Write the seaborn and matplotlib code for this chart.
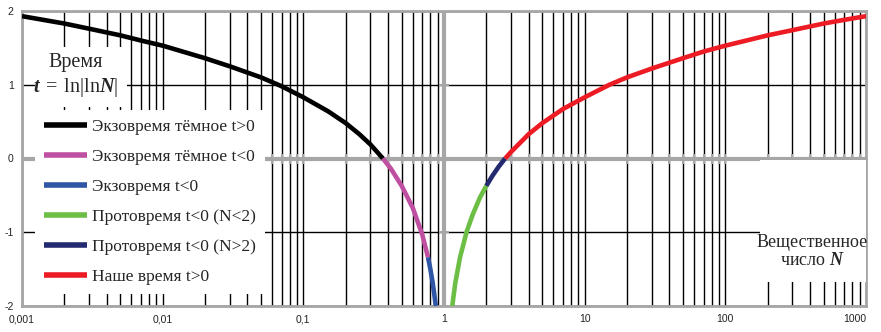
import numpy as np
import pandas as pd
import seaborn as sns
import matplotlib.pyplot as plt
from matplotlib.patches import Rectangle

# values: N (log axis) and t
exo_dark_pos_n = [0.001, 0.002, 0.003, 0.005, 0.007, 0.01, 0.02, 0.03, 0.05, 0.07, 0.1, 0.15, 0.2, 0.25, 0.3, 0.368]
exo_dark_pos_t = [1.93, 1.83, 1.76, 1.67, 1.60, 1.53, 1.36, 1.25, 1.10, 0.98, 0.83, 0.64, 0.48, 0.33, 0.19, 0.0]
exo_dark_neg_n = [0.368, 0.42, 0.5, 0.6, 0.7, 0.77]
exo_dark_neg_t = [0.0, -0.14, -0.37, -0.67, -1.03, -1.34]
exo_neg_n = [0.77, 0.8, 0.83, 0.85, 0.87, 0.874]
exo_neg_t = [-1.34, -1.50, -1.68, -1.82, -1.97, -2.0]
proto_lo_n = [1.145, 1.2, 1.3, 1.45, 1.6, 1.8, 2.0]
proto_lo_t = [-2.0, -1.70, -1.34, -0.99, -0.76, -0.53, -0.37]
proto_hi_n = [2.0, 2.2, 2.45, 2.718]
proto_hi_t = [-0.37, -0.24, -0.11, 0.0]
our_n = [2.718, 3, 4, 5, 7, 10, 15, 20, 30, 50, 70, 100, 200, 300, 500, 700, 1000]
our_t = [0.0, 0.09, 0.33, 0.48, 0.67, 0.83, 1.0, 1.10, 1.22, 1.36, 1.45, 1.53, 1.67, 1.74, 1.83, 1.88, 1.93]

labels = ['Экзовремя тёмное t>0', 'Экзовремя тёмное t<0', 'Экзовремя t<0',
          'Протовремя t<0 (N<2)', 'Протовремя t<0 (N>2)', 'Наше время t>0']
colors = ['#000000', '#BF4FA0', '#2F55A4', '#6DBE45', '#232A70', '#ED1C24']
series = [(exo_dark_pos_n, exo_dark_pos_t), (exo_dark_neg_n, exo_dark_neg_t),
          (exo_neg_n, exo_neg_t), (proto_lo_n, proto_lo_t),
          (proto_hi_n, proto_hi_t), (our_n, our_t)]

x_ticks = [0.001, 0.01, 0.1, 1, 10, 100, 1000]
x_ticklabels = ['0,001', '0,01', '0,1', '1', '10', '100', '1000']
y_ticks = [-2, -1, 0, 1, 2]

sns.set_style('white')
plt.rcParams['font.family'] = ['Liberation Sans', 'DejaVu Sans']
plt.rcParams['mathtext.fontset'] = 'custom'
plt.rcParams['mathtext.rm'] = 'Liberation Serif'
plt.rcParams['mathtext.it'] = 'Liberation Serif:italic'
plt.rcParams['mathtext.bf'] = 'Liberation Serif:bold:italic'

fig = plt.figure(figsize=(8.81, 3.32), dpi=100)
ax = fig.add_axes([22 / 881, 1 - 306 / 332, 844 / 881, 295 / 332])

for (n, t), lab, col in zip(series, labels, colors):
    df = pd.DataFrame({'N': n, 't': t})
    sns.lineplot(data=df, x='N', y='t', ax=ax, color=col, lw=3.3, label=lab,
                 solid_capstyle='butt', zorder=4)

ax.set_xscale('log')
ax.set_xlim(0.001, 1000)
ax.set_ylim(-2, 2)
ax.set_xlabel('')
ax.set_ylabel('')

minor = [k * 10.0 ** d for d in range(-3, 3) for k in range(1, 10)]
minor = [m for m in minor if 0.001 < m < 1000]
ax.set_xticks(minor, minor=True)
ax.set_xticks(x_ticks)
ax.set_xticklabels(x_ticklabels, fontsize=7.5, color='#222222')
ax.set_xticklabels([], minor=True)
ax.get_xticklabels()[-1].set_horizontalalignment('right')
ax.set_yticks(y_ticks)
ax.set_yticklabels([str(v) for v in y_ticks], fontsize=7.5, color='#222222')
ax.tick_params(axis='both', which='both', length=0)
ax.tick_params(axis='x', pad=6)
ax.tick_params(axis='y', pad=6)
ax.grid(True, axis='x', which='both', color='black', lw=1.0, zorder=1)
ax.grid(True, axis='y', which='major', color='black', lw=1.0, zorder=1)
ax.set_axisbelow(True)

# grey axes crossing at t=0 and N=1, with their small tick marks
ax.axhline(0, color='#A6A6A6', lw=3, zorder=2)
ax.axvline(1, color='#A6A6A6', lw=3, zorder=2)
ax.plot(minor, [0] * len(minor), ls='none', marker='|', ms=7, mew=1.5,
        color='#A6A6A6', zorder=2)
ax.plot([1, 1], [-1, 1], ls='none', marker='_', ms=7, mew=1.5,
        color='#A6A6A6', zorder=2)
for s in ax.spines.values():
    s.set_color('#A6A6A6')
    s.set_linewidth(2)

# white boxes behind the annotations
ax.add_patch(Rectangle((13 / 844, (306 - 107) / 295), 92 / 844, 60 / 295,
                       transform=ax.transAxes, facecolor='white', edgecolor='none', zorder=3))
ax.text(54 / 844, (306 - 67) / 295, 'Время', transform=ax.transAxes,
        ha='center', va='baseline', fontsize=14.5, family='Liberation Serif', zorder=5)
ax.text(54 / 844, (306 - 92) / 295, r'$\mathbf{t}\;=\;\mathrm{ln|ln}\mathbf{N}|$',
        transform=ax.transAxes, ha='center', va='baseline', fontsize=14.5, zorder=5)

ax.add_patch(Rectangle((738 / 844, (306 - 282) / 295), 106 / 844, 122 / 295,
                       transform=ax.transAxes, facecolor='white', edgecolor='none', zorder=3))
ax.text(790 / 844, (306 - 247) / 295, 'Вещественное', transform=ax.transAxes,
        ha='center', va='baseline', fontsize=13, family='Liberation Serif', zorder=5)
ax.text(790 / 844, (306 - 265) / 295, r'число $\mathbf{N}$', transform=ax.transAxes,
        ha='center', va='baseline', fontsize=13, family='Liberation Serif', zorder=5)

leg = ax.legend(loc='upper left', bbox_to_anchor=(13 / 844, (306 - 110) / 295),
                borderaxespad=0, frameon=True, fancybox=False, framealpha=1,
                facecolor='white', edgecolor='none', handlelength=2.5,
                handletextpad=0.3, labelspacing=0.8, borderpad=0.5,
                prop={'family': 'Liberation Serif', 'size': 12.5})
leg.set_zorder(6)
for line in leg.get_lines():
    line.set_linewidth(4)

fig.savefig('out.png', dpi=100)
